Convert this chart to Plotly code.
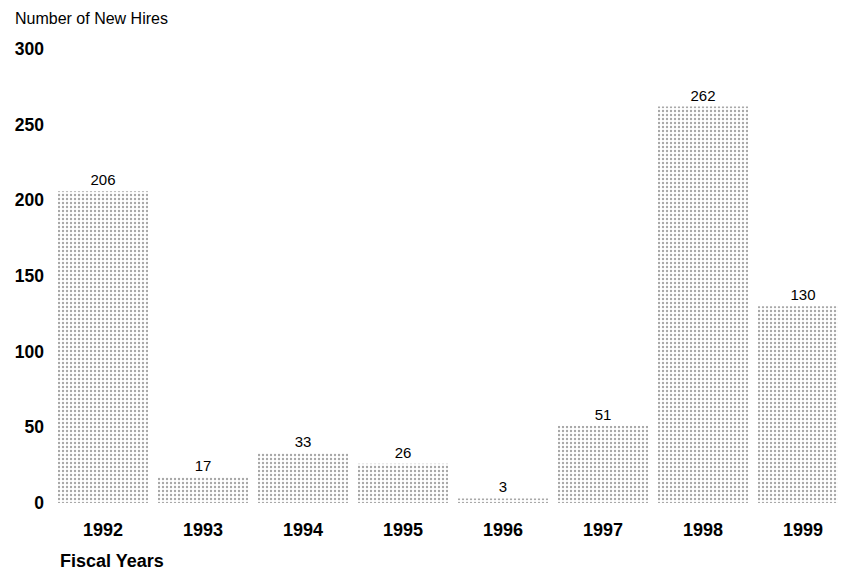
import plotly.graph_objects as go

years = ["1992", "1993", "1994", "1995", "1996", "1997", "1998", "1999"]
new_hires = [206, 17, 33, 26, 3, 51, 262, 130]
y_ticks = [0, 50, 100, 150, 200, 250, 300]

FONT = "Arial, Liberation Sans, sans-serif"

fig = go.Figure(
    go.Bar(
        x=years,
        y=new_hires,
        width=0.9,
        marker=dict(
            color="white",
            line=dict(width=0),
            pattern=dict(shape=".", fgcolor="#505050", bgcolor="white", size=4, solidity=0.28),
        ),
        text=[str(v) for v in new_hires],
        textposition="outside",
        textfont=dict(family=FONT, size=15, color="black"),
        cliponaxis=False,
    )
)

fig.update_xaxes(
    type="category",
    range=[-0.5, 7.51],
    showgrid=False,
    showline=False,
    zeroline=False,
    ticks="",
    ticklabelstandoff=14,
    tickfont=dict(family=FONT, size=18, color="black", weight="bold"),
)
fig.update_yaxes(
    range=[0, 300],
    tickvals=y_ticks,
    showgrid=False,
    showline=False,
    zeroline=False,
    ticks="",
    ticklabelstandoff=8,
    tickfont=dict(family=FONT, size=17.5, color="black", weight="bold"),
)

# axis titles sit as free text, like in the original scan
fig.add_annotation(
    text="Number of New Hires",
    xref="paper", yref="paper",
    x=-0.0499, y=1.068,
    xanchor="left", yanchor="middle",
    showarrow=False,
    font=dict(family=FONT, size=16, color="black"),
)
fig.add_annotation(
    text="<b>Fiscal Years</b>",
    xref="paper", yref="paper",
    x=0.006, y=-0.128,
    xanchor="left", yanchor="middle",
    showarrow=False,
    font=dict(family=FONT, size=18, color="black"),
)

fig.update_layout(
    width=846,
    height=574,
    margin=dict(l=45, r=0, t=41, b=79),
    plot_bgcolor="white",
    paper_bgcolor="white",
    showlegend=False,
)

fig.write_html("out.html")
